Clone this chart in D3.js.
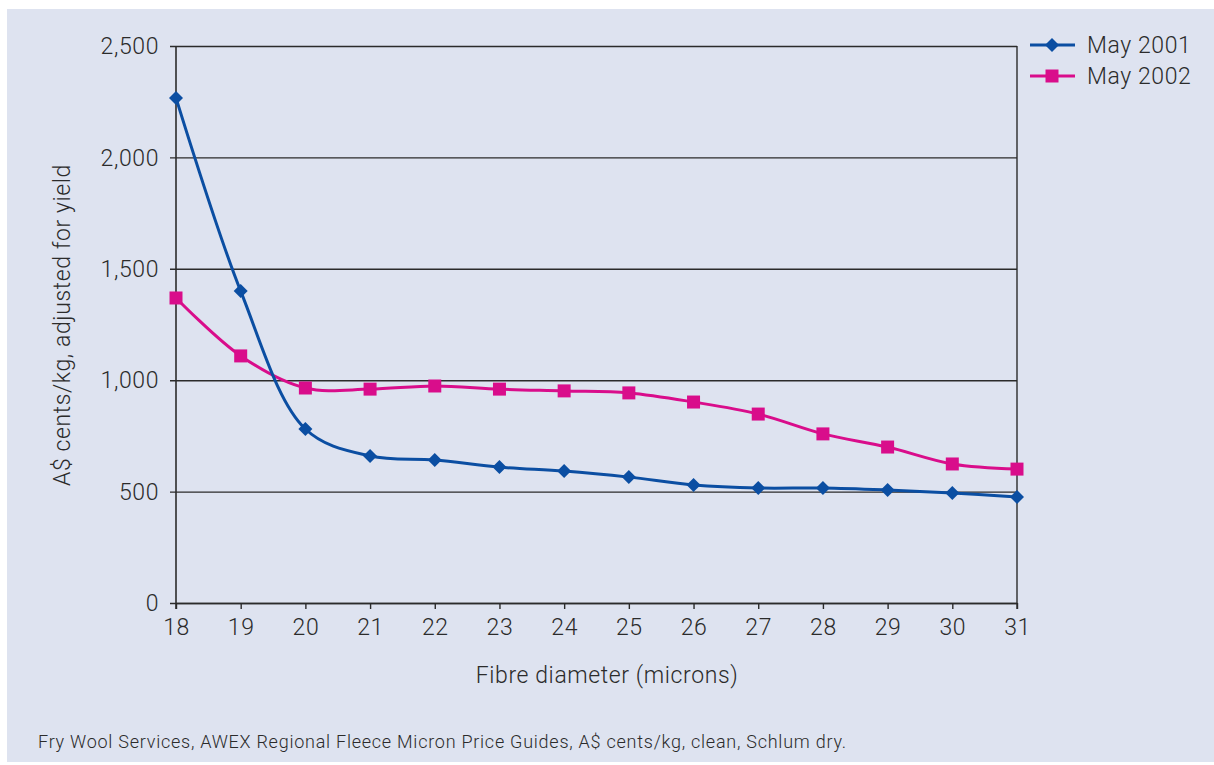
<!DOCTYPE html>
<html>
<head>
<meta charset="utf-8">
<script src="https://cdn.jsdelivr.net/npm/d3@7"></script>
<style>
  html, body { margin: 0; padding: 0; background: #ffffff; }
  svg { display: block; }
  text { font-family: Roboto, "Liberation Sans", Arial, sans-serif; fill: #2b2b2b; }
</style>
</head>
<body>
<svg id="chart" width="1214" height="765"></svg>
<script>
// Fibre diameter in microns
const microns = [18, 19, 20, 21, 22, 23, 24, 25, 26, 27, 28, 29, 30, 31];
// Clean price, A$ cents/kg adjusted for yield
const may2001 = [2267, 1400, 781, 660, 642, 610, 592, 565, 530, 516, 516, 507, 494, 476];
const may2002 = [1369, 1109, 965, 960, 974, 960, 952, 943, 902, 848, 759, 700, 624, 601];
const yTicks = [0, 500, 1000, 1500, 2000, 2500];
const seriesNames = ["May 2001", "May 2002"];
const footnote = "Fry Wool Services, AWEX Regional Fleece Micron Price Guides, A$ cents/kg, clean, Schlum dry.";

const svg = d3.select("#chart");
const blue = "#0b4ea2", pink = "#d90d8b", ink = "#2b2b2b";
const fs = 23, ls = "0.6px";

// panel background
svg.append("rect").attr("x", 7).attr("y", 9).attr("width", 1207).attr("height", 753).attr("fill", "#dee3f0");

const x = d3.scaleLinear().domain([18, 31]).range([176, 1017]);
const y = d3.scaleLinear().domain([0, 2500]).range([603, 46]);

// horizontal gridlines via a left axis with long ticks
const gy = svg.append("g").attr("transform", `translate(${x(31)},0)`)
  .call(d3.axisLeft(y).tickValues(yTicks).tickSize(x(31) - x(18) + 6).tickFormat(""));
gy.select(".domain").remove();
gy.selectAll("line").attr("stroke", ink).attr("stroke-width", 1.4);

// y tick labels
svg.append("g").selectAll("text").data(yTicks).join("text")
  .attr("x", 159).attr("y", d => y(d)).attr("dy", "0.36em")
  .attr("text-anchor", "end").attr("font-size", fs).attr("font-weight", 300)
  .attr("letter-spacing", ls)
  .text(d => d3.format(",")(d));

// x axis
const gx = svg.append("g").attr("transform", `translate(0,${y(0)})`)
  .call(d3.axisBottom(x).tickValues(microns).tickSize(6).tickFormat(d3.format("d")).tickSizeOuter(0));
gx.select(".domain").attr("stroke", ink).attr("stroke-width", 1.4);
gx.selectAll("line").attr("stroke", ink).attr("stroke-width", 1.4);
gx.selectAll("text").attr("font-size", fs).attr("font-weight", 300).attr("fill", ink)
  .attr("letter-spacing", ls)
  .attr("y", 16).attr("font-family", "Roboto, 'Liberation Sans', Arial, sans-serif");

// left axis line and right plot border
svg.append("line").attr("x1", x(18)).attr("x2", x(18)).attr("y1", y(2500)).attr("y2", y(0) + 6)
  .attr("stroke", ink).attr("stroke-width", 1.6);
svg.append("line").attr("x1", x(31)).attr("x2", x(31)).attr("y1", y(2500)).attr("y2", y(0) + 6)
  .attr("stroke", ink).attr("stroke-width", 1.4);

// axis titles
svg.append("text").attr("x", 607).attr("y", 683).attr("text-anchor", "middle")
  .attr("font-size", fs).attr("font-weight", 300).attr("letter-spacing", ls)
  .text("Fibre diameter (microns)");
svg.append("text").attr("transform", "translate(70,325) rotate(-90)").attr("text-anchor", "middle")
  .attr("font-size", fs).attr("font-weight", 300).attr("letter-spacing", ls)
  .text("A$ cents/kg, adjusted for yield");

// series
const line = d3.line().x((d, i) => x(microns[i])).y(d => y(d)).curve(d3.curveCatmullRom.alpha(0.5));
const diamond = d3.symbol().type(d3.symbolDiamond2).size(125);
const square = d3.symbol().type(d3.symbolSquare2).size(215);

function drawSeries(vals, color, sym) {
  svg.append("path").datum(vals).attr("d", line).attr("fill", "none")
    .attr("stroke", color).attr("stroke-width", 3);
  svg.append("g").selectAll("path").data(vals).join("path")
    .attr("transform", (d, i) => `translate(${x(microns[i])},${y(d)})`)
    .attr("d", sym).attr("fill", color);
}
drawSeries(may2002, pink, square);
drawSeries(may2001, blue, diamond);

// legend
const legend = [
  { name: seriesNames[0], color: blue, sym: diamond, y: 45 },
  { name: seriesNames[1], color: pink, sym: square, y: 76 }
];
const lg = svg.append("g").selectAll("g").data(legend).join("g")
  .attr("transform", d => `translate(1030,${d.y})`);
lg.append("line").attr("x1", 0).attr("x2", 45).attr("stroke", d => d.color).attr("stroke-width", 3);
lg.append("path").attr("transform", "translate(22,0)").attr("d", d => d.sym()).attr("fill", d => d.color);
lg.append("text").attr("x", 57).attr("dy", "0.36em").attr("font-size", fs).attr("font-weight", 300)
  .attr("letter-spacing", ls).text(d => d.name);

// source note
svg.append("text").attr("x", 38).attr("y", 748).attr("font-size", 18).attr("font-weight", 300)
  .attr("letter-spacing", "0.75px").text(footnote);
</script>
</body>
</html>
